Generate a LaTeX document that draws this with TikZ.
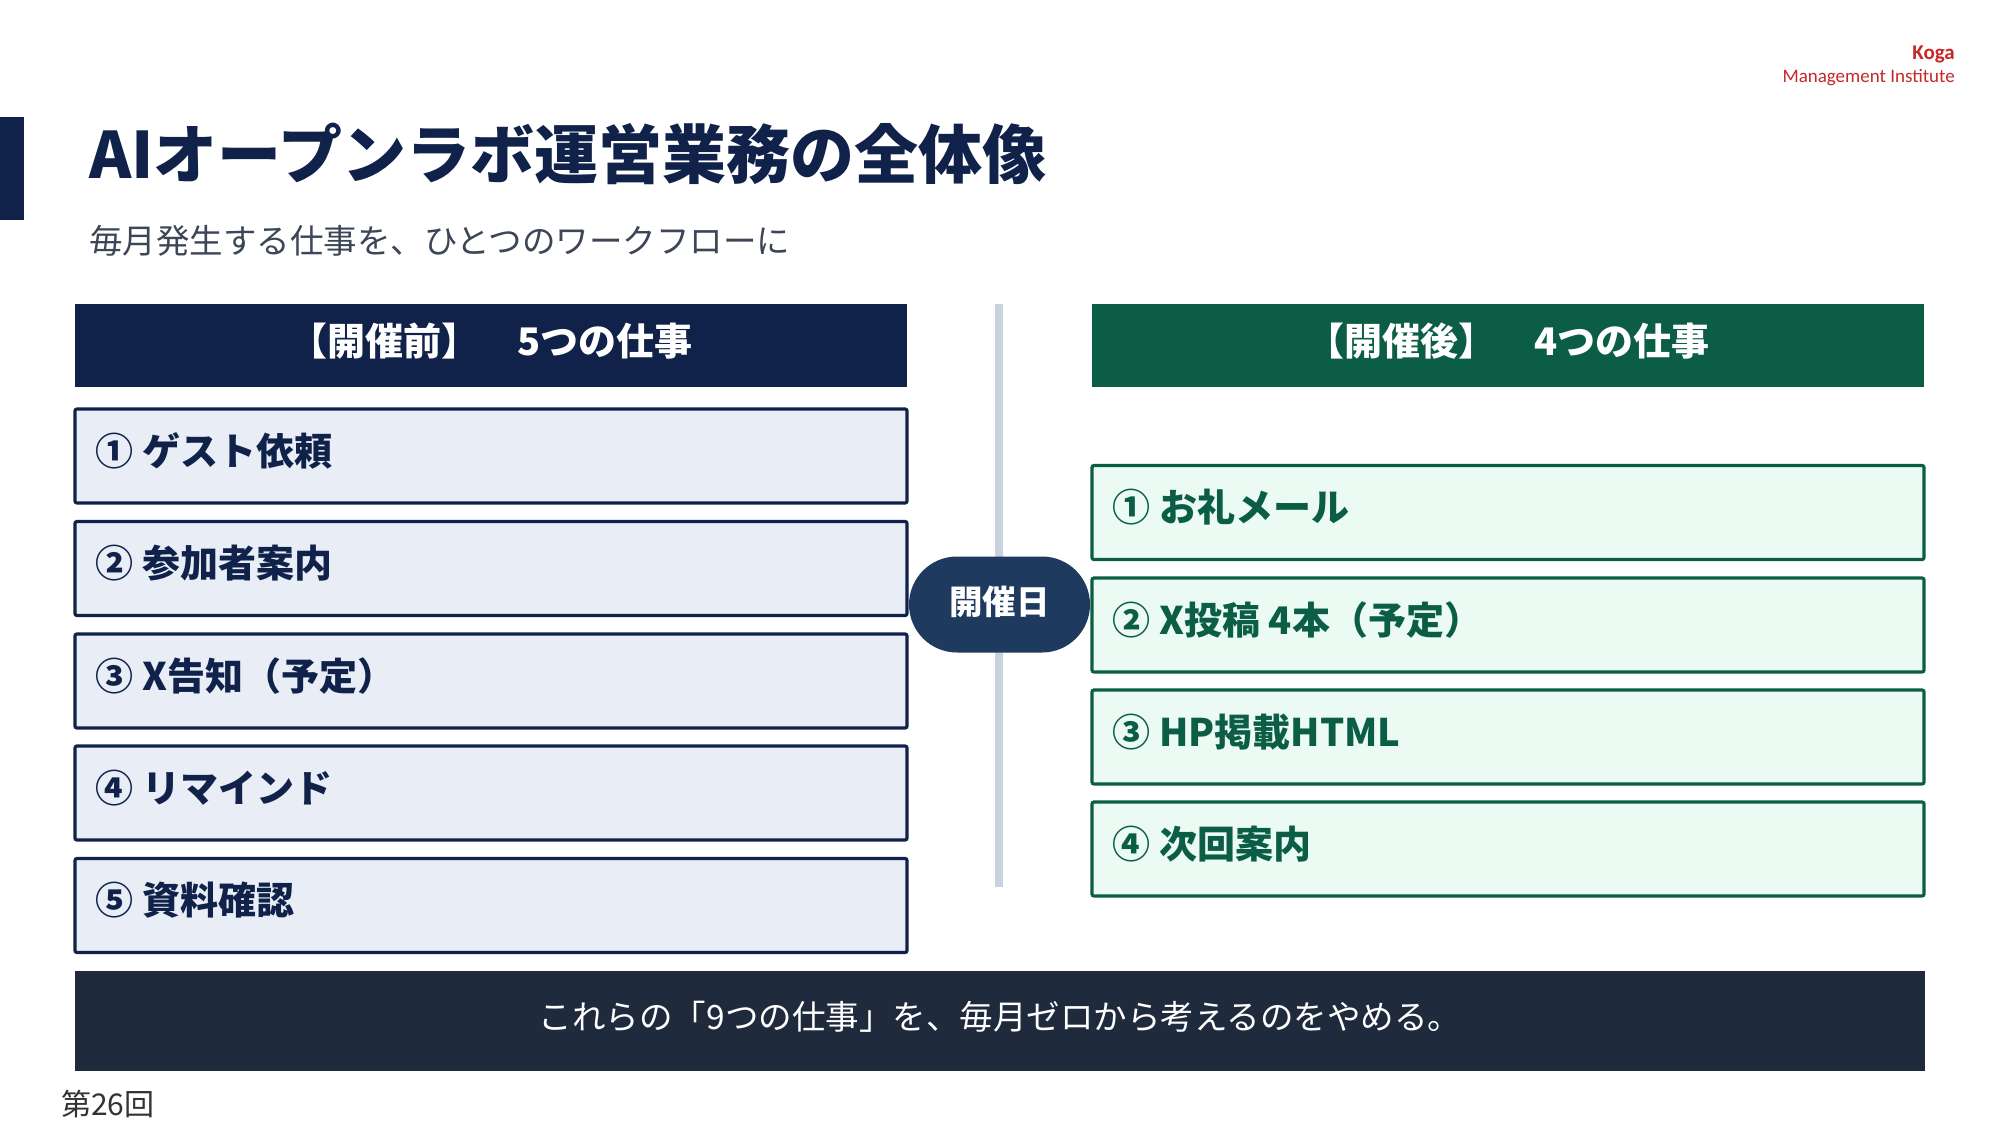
\documentclass[tikz,border=0pt]{standalone}
\usepackage{fontspec}
\setmainfont{Noto Sans CJK JP}
\newfontfamily\latinsans{Carlito}
\usetikzlibrary{shapes.misc}
\definecolor{navy}{HTML}{10224A}
\definecolor{leftfill}{HTML}{E8EDF6}
\definecolor{grn}{HTML}{0B5E45}
\definecolor{grnfill}{HTML}{EBFAF3}
\definecolor{pillc}{HTML}{1F3A5F}
\definecolor{bottomc}{HTML}{1F2A3C}
\definecolor{vline}{HTML}{C9D2DF}
\definecolor{subgray}{HTML}{3C4656}
\definecolor{kogared}{HTML}{C62828}
\definecolor{footgray}{HTML}{333333}
\tikzset{
  hdr/.style={minimum width=832pt, minimum height=83pt, inner sep=0pt},
  hdrtext/.style={inner sep=0pt, text=white, font=\fontsize{38}{45}\selectfont\bfseries},
  lbox/.style={draw=navy, line width=3.2pt, fill=leftfill, rounded corners=2pt,
    minimum width=832pt, minimum height=94pt, inner sep=0pt},
  rbox/.style={draw=grn, line width=3.2pt, fill=grnfill, rounded corners=2pt,
    minimum width=832pt, minimum height=94pt, inner sep=0pt},
  ltext/.style={anchor=west, inner sep=0pt, text=navy, font=\fontsize{38}{45}\selectfont\bfseries},
  rtext/.style={anchor=west, inner sep=0pt, text=grn, font=\fontsize{38}{45}\selectfont\bfseries},
}
\begin{document}
\begin{tikzpicture}[x=1pt,y=-1pt]
\useasboundingbox[fill=white] (0,0) rectangle (2001,1125);
% accent bar
\fill[navy] (0,117) rectangle (24,220);
% title
\node[anchor=west, inner sep=0pt, text=navy, font=\fontsize{64}{76}\selectfont\bfseries] (title) at (89,154) {AIオープンラボ運営業務の全体像};
\node[anchor=west, inner sep=0pt, text=subgray, font=\fontsize{33.5}{40}\selectfont] (subtitle) at (89,241) {毎月発生する仕事を、ひとつのワークフローに};
% logo
\node[anchor=east, inner sep=0pt, text=kogared, font=\latinsans\fontsize{21}{25}\selectfont\bfseries] (koga) at (1955,54) {Koga};
\node[anchor=east, inner sep=0pt, text=kogared, font=\latinsans\fontsize{19}{23}\selectfont] (mi) at (1955,78) {Management Institute};
% vertical line
\coordinate (vtop) at (999,304);
\coordinate (vbot) at (999,887);
\draw[vline, line width=8pt] (vtop) -- (vbot);
% headers
\node[hdr, fill=navy] (hl) at (491,345.5) {};
\node[hdr, fill=grn] (hr) at (1508,345.5) {};
\node[hdrtext] (hlt) at ([yshift=4pt]hl.center) {【開催前】　5つの仕事};
\node[hdrtext] (hrt) at ([yshift=4pt]hr.center) {【開催後】　4つの仕事};
% left items
\node[lbox] (l1) at (491,456) {};
\node[lbox] (l2) at (491,568.5) {};
\node[lbox] (l3) at (491,681) {};
\node[lbox] (l4) at (491,793) {};
\node[lbox] (l5) at (491,905.5) {};
\node[ltext] (l1t) at ([xshift=22pt,yshift=5pt]l1.west) {① ゲスト依頼};
\node[ltext] (l2t) at ([xshift=22pt,yshift=5pt]l2.west) {② 参加者案内};
\node[ltext] (l3t) at ([xshift=22pt,yshift=5pt]l3.west) {③ X告知（予定）};
\node[ltext] (l4t) at ([xshift=22pt,yshift=5pt]l4.west) {④ リマインド};
\node[ltext] (l5t) at ([xshift=22pt,yshift=5pt]l5.west) {⑤ 資料確認};
% right items
\node[rbox] (r1) at (1508,512.5) {};
\node[rbox] (r2) at (1508,625) {};
\node[rbox] (r3) at (1508,737) {};
\node[rbox] (r4) at (1508,849) {};
\node[rtext] (r1t) at ([xshift=22pt,yshift=5pt]r1.west) {① お礼メール};
\node[rtext] (r2t) at ([xshift=22pt,yshift=5pt]r2.west) {② X投稿 4本（予定）};
\node[rtext] (r3t) at ([xshift=22pt,yshift=5pt]r3.west) {③ HP掲載HTML};
\node[rtext] (r4t) at ([xshift=22pt,yshift=5pt]r4.west) {④ 次回案内};
% pill
\node[rounded rectangle, fill=pillc, minimum width=181pt, minimum height=96pt, inner sep=0pt] (pill) at (999.5,604.5) {};
\node[inner sep=0pt, text=white, font=\fontsize{33.5}{40}\selectfont\bfseries] (pillt) at ([yshift=3pt]pill.center) {開催日};
% bottom bar
\node[fill=bottomc, minimum width=1850pt, minimum height=100pt, inner sep=0pt] (bottom) at (1000,1021) {};
\node[inner sep=0pt, text=white, font=\fontsize{33.5}{40}\selectfont] (bottomt) at ([yshift=4pt]bottom.center) {これらの「9つの仕事」を、毎月ゼロから考えるのをやめる。};
% footer
\node[anchor=west, inner sep=0pt, text=footgray, font=\fontsize{30}{36}\selectfont] (foot) at (61,1104) {第26回};
\end{tikzpicture}
\end{document}
